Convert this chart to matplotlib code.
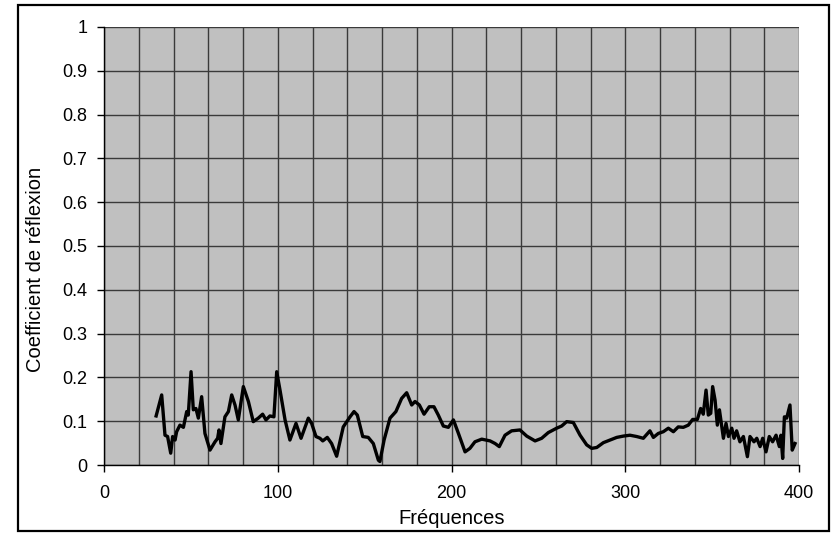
import matplotlib
matplotlib.use("Agg")
import matplotlib.pyplot as plt
from matplotlib.patches import Rectangle
from matplotlib.ticker import MultipleLocator

freq = [30, 33.2, 35.1, 36.6, 38.4, 39.5, 40.9, 41.8, 43.7, 45.7, 47.6, 48.5, 50.1, 51.4, 52.9,
        54.3, 56.2, 58.1, 61, 63.9, 65.4, 66.2, 67.3, 69.6, 71.6, 73.5, 75.4, 77.3, 80.2, 83.1,
        85.9, 88.8, 91.3, 93.2, 95.5, 97.8, 99.4, 101.3, 104.2, 107, 110.5, 113.4, 117.6, 119.5,
        122, 124.3, 125.9, 128.5, 131, 133.9, 137.7, 141.6, 143.9, 145.8, 148.9, 152.1, 155,
        157.9, 158.8, 161.2, 164.6, 168, 171.3, 174.2, 177.1, 179, 181.5, 184.2, 187.2, 189.9,
        192.4, 195.3, 198.2, 201.1, 204, 207.8, 210.6, 213.5, 217.4, 222.2, 225.1, 227.5, 230.8,
        234.6, 239.4, 243.3, 248.1, 251.9, 255.7, 260.5, 263.4, 266.3, 270.1, 274, 277.8, 280.7,
        283.6, 287.4, 291.2, 295.1, 298.9, 302.7, 306.6, 310.4, 314.2, 316.2, 319, 321.9, 324.8,
        327.7, 330.5, 333.4, 336.3, 338.8, 341.5, 343.4, 344.9, 346.5, 347.8, 349.2, 350.3,
        351.7, 353, 354.2, 356.5, 358, 359.4, 361.3, 362.6, 364.1, 366, 368, 370.3, 371.8, 374.1,
        375.7, 377.6, 379.1, 381, 382.9, 384.8, 386.8, 388.7, 389.6, 390.6, 391.6, 392.9, 394.8,
        396.1, 397.7]
coef = [0.112, 0.16, 0.068, 0.065, 0.027, 0.065, 0.057, 0.076, 0.091, 0.086, 0.122, 0.114, 0.213,
        0.126, 0.129, 0.107, 0.156, 0.072, 0.034, 0.053, 0.061, 0.08, 0.049, 0.11, 0.122, 0.16,
        0.137, 0.103, 0.179, 0.145, 0.099, 0.107, 0.116, 0.103, 0.112, 0.11, 0.213, 0.171, 0.103,
        0.057, 0.095, 0.061, 0.107, 0.095, 0.065, 0.061, 0.055, 0.063, 0.049, 0.02, 0.087, 0.11,
        0.122, 0.114, 0.065, 0.063, 0.049, 0.011, 0.008, 0.057, 0.107, 0.122, 0.152, 0.165, 0.137,
        0.145, 0.137, 0.116, 0.133, 0.133, 0.114, 0.089, 0.086, 0.103, 0.072, 0.03, 0.038, 0.053,
        0.059, 0.055, 0.049, 0.042, 0.068, 0.078, 0.08, 0.066, 0.055, 0.061, 0.074, 0.084, 0.089,
        0.099, 0.097, 0.068, 0.046, 0.038, 0.04, 0.051, 0.057, 0.063, 0.066, 0.068, 0.065, 0.061,
        0.078, 0.063, 0.072, 0.076, 0.084, 0.076, 0.087, 0.086, 0.091, 0.104, 0.104, 0.129, 0.116,
        0.171, 0.114, 0.118, 0.179, 0.148, 0.091, 0.126, 0.061, 0.095, 0.065, 0.084, 0.061, 0.078,
        0.053, 0.065, 0.019, 0.065, 0.053, 0.061, 0.042, 0.061, 0.03, 0.065, 0.053, 0.068, 0.042,
        0.068, 0.015, 0.11, 0.107, 0.137, 0.034, 0.049]

x_ticks = [0, 100, 200, 300, 400]
y_ticks = [0, 0.1, 0.2, 0.3, 0.4, 0.5, 0.6, 0.7, 0.8, 0.9, 1]
y_labels = ["0", "0.1", "0.2", "0.3", "0.4", "0.5", "0.6", "0.7", "0.8", "0.9", "1"]

plt.rcParams['font.family'] = ['Liberation Sans', 'DejaVu Sans']

W, H = 834, 535
fig = plt.figure(figsize=(W/100, H/100), dpi=100)
ax = fig.add_axes([104/W, 1-465/H, 695/W, 438/H])
ax.set_facecolor('#c0c0c0')
ax.set_xlim(0, 400)
ax.set_ylim(0, 1)
ax.set_xticks(x_ticks)
ax.xaxis.set_minor_locator(MultipleLocator(20))
ax.set_yticks(y_ticks)
ax.set_yticklabels(y_labels)
ax.grid(True, which='both', axis='x', color='#3a3a3a', lw=1)
ax.grid(True, which='major', axis='y', color='#3a3a3a', lw=1)
ax.set_axisbelow(True)
ax.tick_params(which='major', direction='out', length=5, width=1, labelsize=13, colors='black')
ax.tick_params(axis='y', pad=7)
ax.tick_params(axis='x', pad=9.5)
ax.tick_params(which='minor', length=0)
for s in ['top', 'right']:
    ax.spines[s].set_visible(False)
for s in ['left', 'bottom']:
    ax.spines[s].set_linewidth(1)
    ax.spines[s].set_color('black')

ax.plot(freq, coef, color='black', lw=2.4, solid_joinstyle='round', clip_on=False)

fig.text(451.5/W, 1-519/H, 'Fréquences', fontsize=14.5, ha='center', va='center')
fig.text(35.5/W, 1-269/H, 'Coefficient de réflexion', fontsize=14.5, ha='center', va='center',
         rotation=90)

fig.patches.append(Rectangle((18/W, 1-531/H), 811/W, 526/H, transform=fig.transFigure,
                             fill=False, edgecolor='black', lw=1.6))
fig.savefig('out.png', dpi=100)
